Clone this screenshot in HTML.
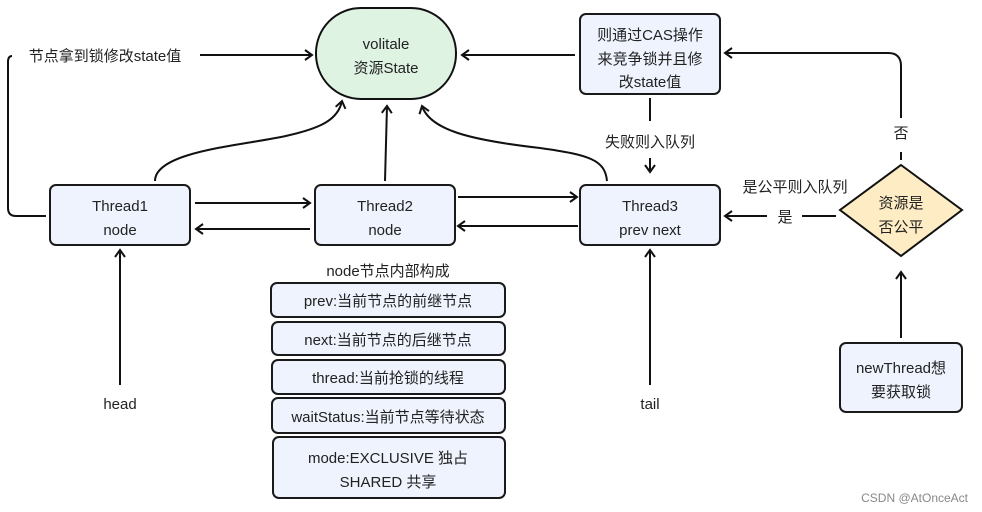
<!DOCTYPE html>
<html><head><meta charset="utf-8"><style>
html,body{margin:0;padding:0;background:#fff}
svg{display:block}
text{font-family:"Liberation Sans","Noto Sans CJK SC",sans-serif;font-size:15px;fill:#222;text-anchor:middle}
.b{fill:#eef3fd;stroke:#1a1a1a;stroke-width:2}
.l{fill:none;stroke:#111;stroke-width:2}
</style></head><body>
<svg width="982" height="512" viewBox="0 0 982 512">
<defs><marker id="a" markerWidth="12" markerHeight="12" refX="9" refY="6" orient="auto" markerUnits="userSpaceOnUse"><path d="M2,1 L9,6 L2,11" fill="none" stroke="#111" stroke-width="2"/></marker></defs>
<rect x="316" y="8" width="140" height="91" rx="45" ry="45" fill="#dff3e3" stroke="#111" stroke-width="2"/>
<text x="386" y="49">volitale</text><text x="386" y="73">资源State</text>
<rect class="b" x="580" y="14" width="140" height="80" rx="6"/>
<text x="650" y="40">则通过CAS操作</text><text x="650" y="64">来竞争锁并且修</text><text x="650" y="87">改state值</text>
<rect class="b" x="50" y="185" width="140" height="60" rx="6"/>
<text x="120" y="211">Thread1</text><text x="120" y="235">node</text>
<rect class="b" x="315" y="185" width="140" height="60" rx="6"/>
<text x="385" y="211">Thread2</text><text x="385" y="235">node</text>
<rect class="b" x="580" y="185" width="140" height="60" rx="6"/>
<text x="650" y="211">Thread3</text><text x="650" y="235">prev next</text>
<polygon points="901,165 962,210 901,256 840,210" fill="#fdecc4" stroke="#111" stroke-width="2"/>
<text x="901" y="208">资源是</text><text x="901" y="232">否公平</text>
<rect class="b" x="840" y="343" width="122" height="69" rx="6"/>
<text x="901" y="373">newThread想</text><text x="901" y="397">要获取锁</text>
<text x="388" y="276">node节点内部构成</text>
<rect class="b" x="271" y="283" width="234" height="34" rx="6"/><text x="388" y="306">prev:当前节点的前继节点</text>
<rect class="b" x="272" y="322" width="233" height="33" rx="6"/><text x="388" y="345">next:当前节点的后继节点</text>
<rect class="b" x="272" y="360" width="233" height="34" rx="6"/><text x="388" y="383">thread:当前抢锁的线程</text>
<rect class="b" x="272" y="398" width="233" height="35" rx="6"/><text x="388" y="422">waitStatus:当前节点等待状态</text>
<rect class="b" x="273" y="437" width="232" height="61" rx="6"/><text x="388" y="463">mode:EXCLUSIVE 独占</text><text x="388" y="487">SHARED 共享</text>
<path class="l" d="M46,216 L16,216 Q8,216 8,208 L8,62 Q8,56 12,56"/>
<text x="105" y="61">节点拿到锁修改state值</text>
<path class="l" d="M200,55 L312,55" marker-end="url(#a)"/>
<path class="l" d="M575,55 L462,55" marker-end="url(#a)"/>
<path class="l" d="M155,181 C155,150 250,145 290,135 C320,128 338,120 342,101" marker-end="url(#a)"/>
<path class="l" d="M385,181 L387,106" marker-end="url(#a)"/>
<path class="l" d="M607,181 C605,160 590,155 540,148 C470,140 430,130 422,106" marker-end="url(#a)"/>
<path class="l" d="M195,203 L310,203" marker-end="url(#a)"/>
<path class="l" d="M310,229 L196,229" marker-end="url(#a)"/>
<path class="l" d="M458,197 L577,197" marker-end="url(#a)"/>
<path class="l" d="M578,226 L458,226" marker-end="url(#a)"/>
<path class="l" d="M650,98 L650,121"/>
<text x="650" y="147">失败则入队列</text>
<path class="l" d="M650,158 L650,172" marker-end="url(#a)"/>
<path class="l" d="M901,160 L901,152"/>
<text x="901" y="138">否</text>
<path class="l" d="M901,118 L901,66 Q901,53 888,53 L725,53" marker-end="url(#a)"/>
<text x="795" y="192">是公平则入队列</text>
<path class="l" d="M836,216 L802,216"/>
<text x="785" y="222">是</text>
<path class="l" d="M767,216 L725,216" marker-end="url(#a)"/>
<path class="l" d="M120,385 L120,250" marker-end="url(#a)"/>
<text x="120" y="409">head</text>
<path class="l" d="M650,385 L650,250" marker-end="url(#a)"/>
<text x="650" y="409">tail</text>
<path class="l" d="M901,338 L901,272" marker-end="url(#a)"/>
<text x="968" y="502" style="font-size:12px;fill:#888;text-anchor:end">CSDN @AtOnceAct</text>
</svg>
</body></html>
